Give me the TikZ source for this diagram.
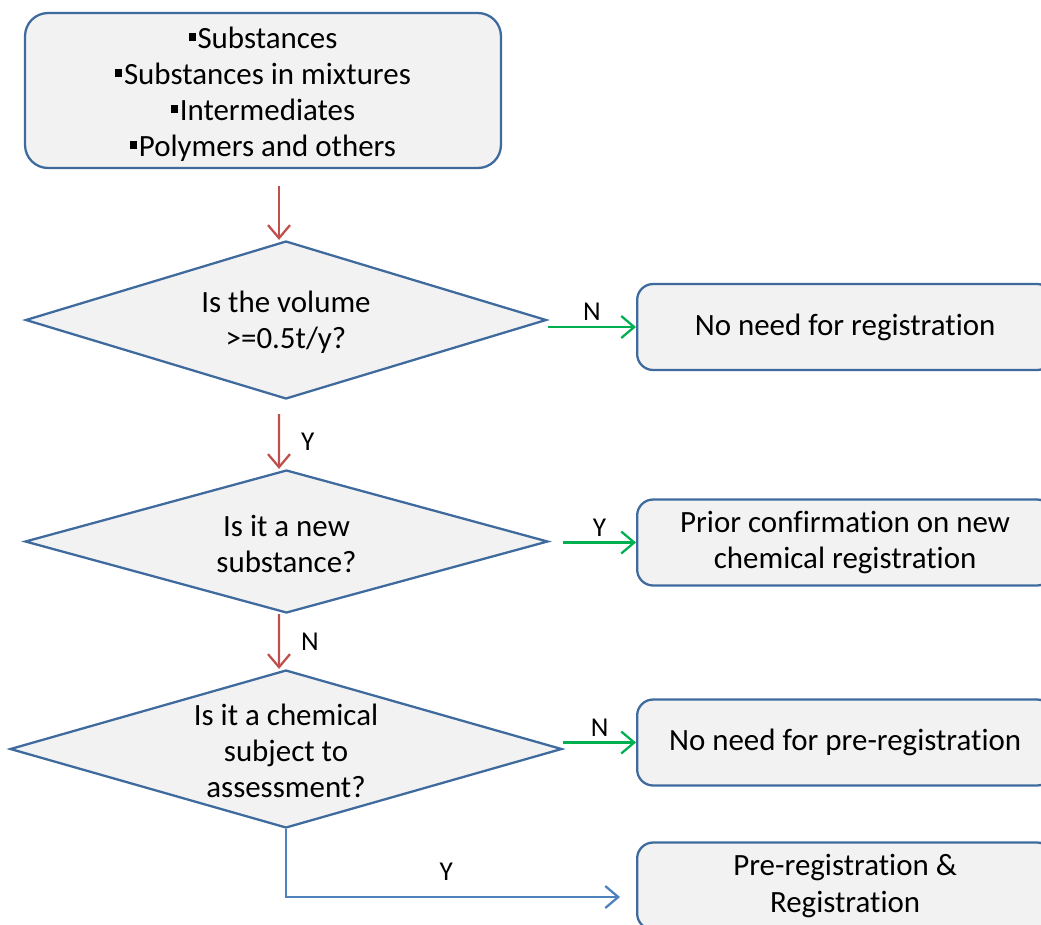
\documentclass[tikz,border=0pt]{standalone}
\usepackage{fontspec}
\setmainfont{Carlito}[Ligatures=NoCommon]
\usetikzlibrary{shapes.geometric, arrows.meta, positioning}

\definecolor{outline}{HTML}{3F6A9E}
\definecolor{shade}{HTML}{F2F2F2}
\definecolor{redline}{HTML}{C0504D}
\definecolor{greenline}{HTML}{00B050}
\definecolor{blueline}{HTML}{4F81BD}

\newcommand{\sqb}{\rule[0.24em]{0.24em}{0.24em}\hspace{0.05em}}

\tikzset{
	every node/.style={font=\fontsize{17.6}{20.5}\selectfont},
	startbox/.style={draw=outline, fill=shade, line width=1.3pt, rounded corners=0.46cm,
		minimum width=9.52cm, minimum height=3.1cm},
	decision/.style={diamond, draw=outline, fill=shade, line width=1.3pt, inner sep=0pt},
	question/.style={align=center, yshift=-0.04cm},
	result/.style={draw=outline, fill=shade, line width=1.3pt, rounded corners=0.32cm,
		minimum width=8.32cm, minimum height=1.72cm, align=center, anchor=west},
	lab/.style={font=\fontsize{15.5}{18}\selectfont, inner sep=3pt},
	tip/.style={-{Straight Barb[length=0.26cm, width=0.44cm]}, line width=1.3pt},
	redflow/.style={tip, draw=redline},
	greenflow/.style={tip, draw=greenline},
	blueflow/.style={tip, draw=blueline}
}

\begin{document}
\begin{tikzpicture}[x=0.02cm, y=-0.02cm]
	\useasboundingbox (0,0) rectangle (1041,924);

	\node[startbox] (items) at (263,90.5) {};
	\node[question, yshift=-0.03cm] at (items) {\sqb Substances\\\sqb Substances in mixtures\\\sqb Intermediates\\\sqb Polymers and others};

	\node[decision, minimum width=10.42cm, minimum height=3.16cm] (q1) at (286,320) {};
	\node[question] at (q1) {Is the volume\\>=0.5t/y?};

	\node[decision, minimum width=10.46cm, minimum height=2.86cm] (q2) at (286.5,541.5) {};
	\node[question] at (q2) {Is it a new\\substance?};

	\node[decision, minimum width=11.04cm, minimum height=3.16cm] (q3) at (286,749) {};
	\node[question] at (q3) {Is it a chemical\\subject to\\assessment?};

	\node[result] (r1) at (636,327) {\raisebox{-2pt}{No need for registration}};
	\node[result] (r2) at (636,542.5) {Prior confirmation on new\\chemical registration};
	\node[result] (r3) at (636,742.5) {\raisebox{-2pt}{No need for pre-registration}};
	\node[result, minimum height=1.74cm] (r4) at (636,886) {Pre-registration \&\\Registration};

	\coordinate (e4) at ([xshift=-0.32cm, yshift=-0.22cm]r4.west);

	\draw[redflow] ([xshift=-0.14cm, yshift=-0.34cm]items.south -| q1.north) -- ([xshift=-0.14cm]q1.north);
	\draw[redflow] ([xshift=-0.14cm, yshift=-0.28cm]q1.south) -- node[lab, right=9pt] {Y} ([xshift=-0.15cm]q2.north);
	\draw[redflow] ([xshift=-0.15cm]q2.south) -- node[lab, right=9pt] {N} ([xshift=-0.14cm]q3.north);

	\draw[greenflow] (q1.east |- r1.west) -- node[lab, above] {N} (r1.west);
	\draw[greenflow] ([xshift=0.28cm]q2.east |- r2.west) -- node[lab, above] {Y} (r2.west);
	\draw[greenflow] (q3.east |- r3.west) -- node[lab, above] {N} (r3.west);

	\draw[blueflow] (q3.south) |- node[lab, above=6pt, pos=0.74] {Y} (e4);
\end{tikzpicture}
\end{document}
